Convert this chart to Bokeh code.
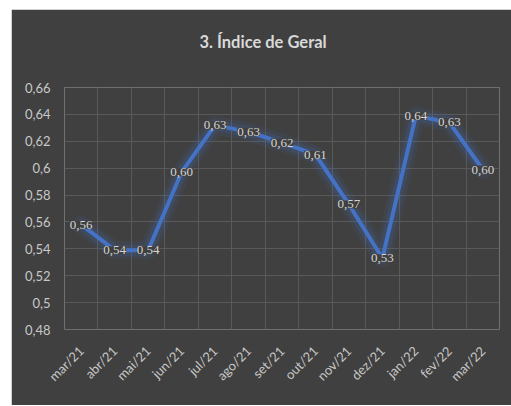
from bokeh.plotting import figure
from bokeh.models import FixedTicker, ColumnDataSource, LabelSet, Spacer, Title
from bokeh.layouts import row, column
from bokeh.embed import file_html
from bokeh.resources import INLINE

months = ["mar/21", "abr/21", "mai/21", "jun/21", "jul/21", "ago/21", "set/21",
          "out/21", "nov/21", "dez/21", "jan/22", "fev/22", "mar/22"]
values = [0.558, 0.539, 0.539, 0.597, 0.632, 0.627, 0.619, 0.610, 0.573,
          0.533, 0.639, 0.634, 0.599]
y_ticks = [0.48, 0.50, 0.52, 0.54, 0.56, 0.58, 0.60, 0.62, 0.64, 0.66]
y_tick_labels = ["0,48", "0,5", "0,52", "0,54", "0,56", "0,58", "0,6", "0,62", "0,64", "0,66"]
title_text = "3. Índice de Geral"

FONT = "Lato"
BG = "#404040"
GRID = "#595959"
TXT = "#c8c8c8"
BLUE = "#4472c4"

xs = list(range(len(months)))
labels = [f"{v:.2f}".replace(".", ",") for v in values]
src = ColumnDataSource(dict(x=xs, y=values, lab=labels))

p = figure(width=500, height=396, output_backend="svg", toolbar_location=None,
           x_range=(-0.5, len(months) - 0.5), y_range=(y_ticks[0], y_ticks[-1]),
           min_border_left=53, min_border_right=12, min_border_top=78, min_border_bottom=76,
           title=title_text)
p.background_fill_color = BG
p.border_fill_color = BG
p.outline_line_color = None

p.title.align = "left"
p.title.offset = 135
p.title.standoff = 10
p.title.text_color = "#d9d9d9"
p.title.text_font = FONT
p.title.text_font_style = "bold"
p.title.text_font_size = "16.5px"

# blank spacer title between the chart title and the plot area
p.add_layout(Title(text=" ", text_font_size="1px", standoff=28), "above")

# grid
p.xgrid.ticker = FixedTicker(ticks=[i - 0.5 for i in range(len(months) + 1)])
p.xgrid.grid_line_color = GRID
p.ygrid.grid_line_color = GRID

# axes
p.xaxis.ticker = FixedTicker(ticks=xs)
p.xaxis.major_label_overrides = {i: m for i, m in enumerate(months)}
p.xaxis.major_label_orientation = 0.785398
p.yaxis.ticker = FixedTicker(ticks=y_ticks)
p.yaxis.major_label_overrides = {t: l for t, l in zip(y_ticks, y_tick_labels)}
for ax in (p.xaxis, p.yaxis):
    ax.axis_line_color = None
    ax.major_tick_line_color = None
    ax.minor_tick_line_color = None
    ax.major_label_text_color = TXT
    ax.major_label_text_font = FONT
    ax.major_label_text_font_size = "13px"
p.yaxis.major_label_standoff = 8
p.xaxis.major_label_standoff = 13

# glow + line
p.line("x", "y", source=src, line_color=BLUE, line_width=18, line_alpha=0.10, line_join="round", line_cap="round")
p.line("x", "y", source=src, line_color=BLUE, line_width=11, line_alpha=0.16, line_join="round", line_cap="round")
p.line("x", "y", source=src, line_color=BLUE, line_width=4, line_join="round", line_cap="round")

ls = LabelSet(x="x", y="y", text="lab", source=src, text_align="center", text_baseline="middle",
              text_color="#d4d4d4", text_font=FONT, text_font_size="13px",
              background_fill_color=BG, background_fill_alpha=1.0)
p.add_layout(ls)

layout = row(Spacer(width=11, height=405), column(Spacer(width=500, height=9), p))

open("out.html", "w").write(file_html(layout, INLINE))
